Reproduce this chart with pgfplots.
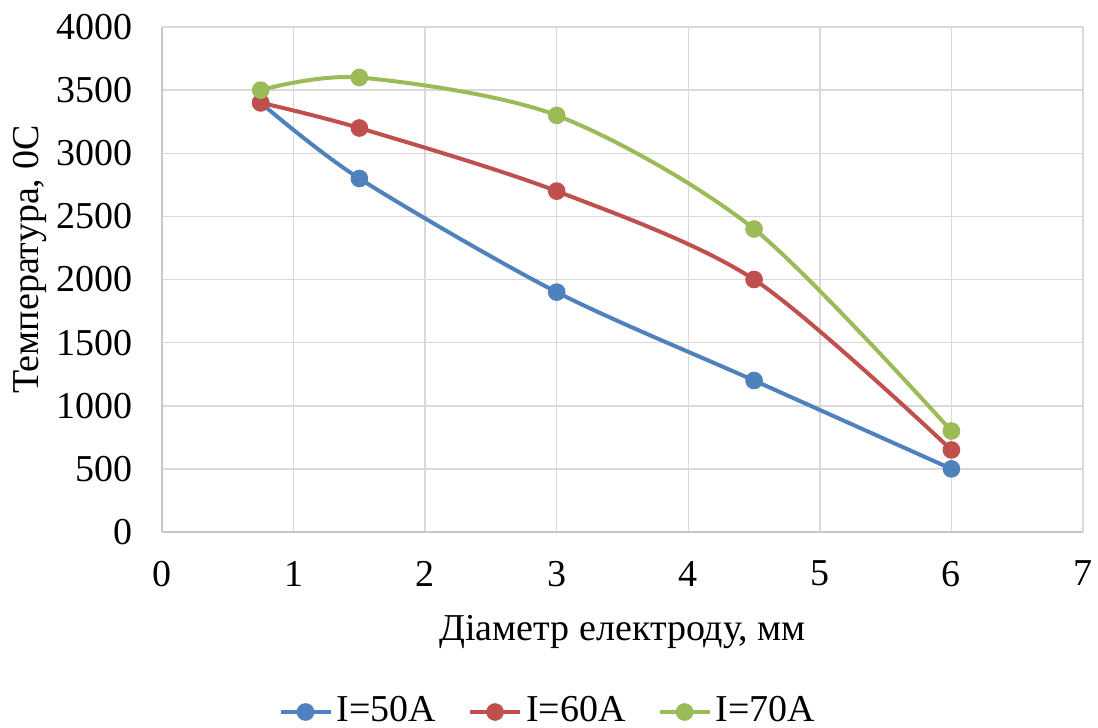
\documentclass[border=0pt]{standalone}
\usepackage{fontspec}
\setmainfont{Liberation Serif}[Ligatures=TeX]
\newfontfamily\tnr{Liberation Serif}
\usepackage{pgfplots}
\pgfplotsset{compat=1.18}
\definecolor{cb}{HTML}{4F81BD}
\definecolor{cr}{HTML}{C0504D}
\definecolor{cg}{HTML}{9BBB59}
\definecolor{gridc}{HTML}{D9D9D9}
\definecolor{axc}{HTML}{C8C8C8}
\begin{document}
\tnr\fontsize{19}{23}\selectfont
\begin{tikzpicture}[font=\tnr\fontsize{19}{23}\selectfont]
\path[use as bounding box] (-81pt,-98pt) rectangle (468pt,266pt);
\begin{axis}[
  at={(0,0)}, anchor=origin,
  scale only axis,
  width=460.5pt, height=252.5pt,
  xmin=0, xmax=7, ymin=0, ymax=4000,
  xtick={0,1,...,7}, ytick={0,500,...,4000},
  major tick length=0pt,
  grid=major,
  major grid style={gridc, line width=0.75pt},
  axis line style={axc, line width=0.75pt},
  axis x line*=bottom, axis y line*=left,
  separate axis lines,
  /pgf/number format/assume math mode=true,
  /pgf/number format/1000 sep={},
  ticklabel style={font=\tnr\fontsize{19}{23}\selectfont},
  xticklabel style={yshift=-8pt},
  yticklabel style={xshift=-8pt},
  label style={font=\tnr\fontsize{19}{23}\selectfont},
  xlabel={Діаметр електроду, мм},
  ylabel={Температура, 0С},
  xlabel style={at={(axis description cs:0.5,0)}, anchor=center, yshift=-50pt},
  every axis y label/.append style={at={(axis description cs:-0.1433,0.54)}, anchor=center},
  legend style={draw=none, at={(axis description cs:0.42,0)}, anchor=center, yshift=-90pt,
    legend columns=3, font=\tnr\fontsize{19}{23}\selectfont,
    /tikz/every even column/.append style={column sep=14pt}},
  legend image code/.code={\draw[mark repeat=2,mark phase=2,#1] plot coordinates {(0pt,0pt)(12.5pt,0pt)(25pt,0pt)};},
  every axis plot/.append style={line width=2pt, smooth, mark=*, mark size=3.4pt},
  clip=false,
]
\addplot[cb, mark options={fill=cb, draw=cb}] coordinates {(0.75,3400)(1.5,2800)(3,1900)(4.5,1200)(6,500)};
\addlegendentry{I=50A}
\addplot[cr, mark options={fill=cr, draw=cr}] coordinates {(0.75,3400)(1.5,3200)(3,2700)(4.5,2000)(6,650)};
\addlegendentry{I=60A}
\addplot[cg, mark options={fill=cg, draw=cg}] coordinates {(0.75,3500)(1.5,3600)(3,3300)(4.5,2400)(6,800)};
\addlegendentry{I=70A}
\end{axis}
\end{tikzpicture}
\end{document}
